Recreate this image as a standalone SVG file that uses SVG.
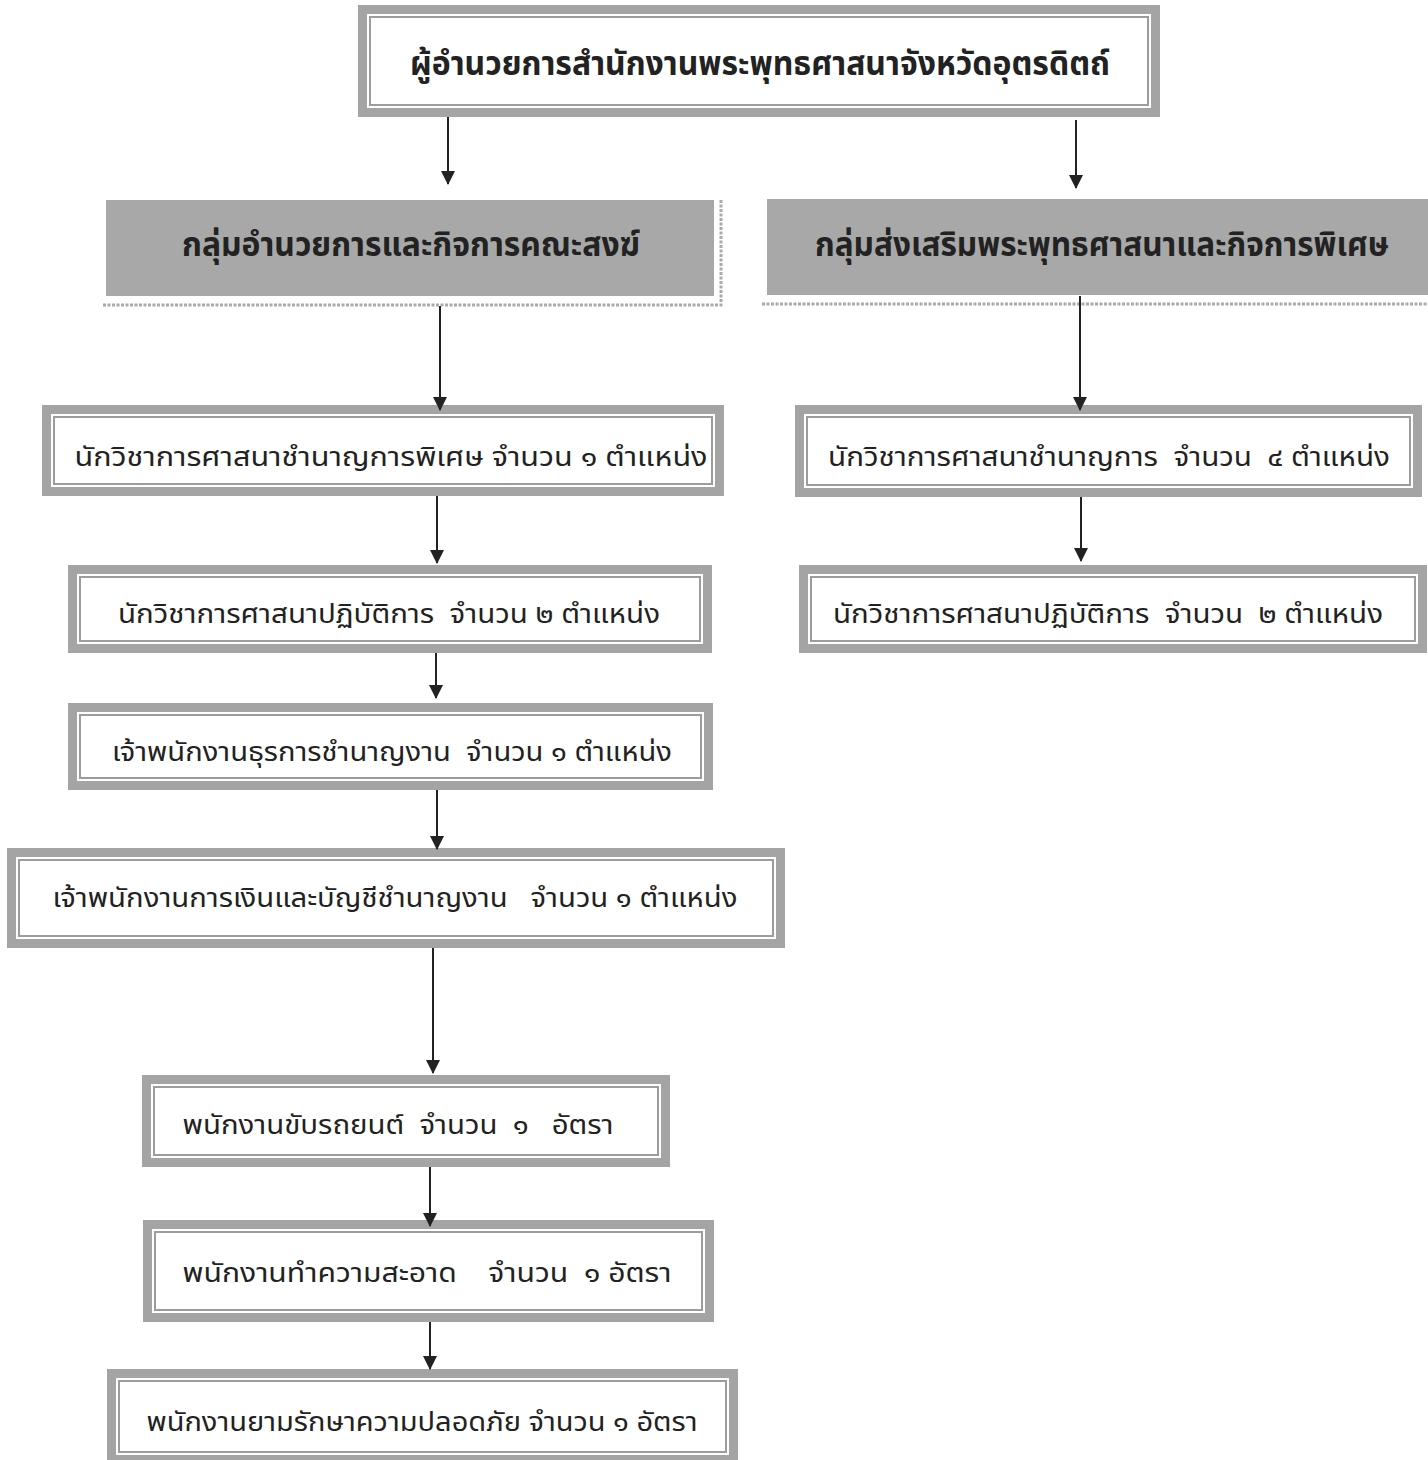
<svg xmlns="http://www.w3.org/2000/svg" width="1428" height="1460" viewBox="0 0 1428 1460">
<defs>
<marker id="ah" markerWidth="14" markerHeight="14" refX="13" refY="7" orient="auto" markerUnits="userSpaceOnUse" viewBox="0 0 14 14">
<path d="M0,0 L14,7 L0,14 Z" fill="#222"/>
</marker>
<style>
.outer{fill:#fff;stroke:#a4a4a4;stroke-width:9}
.inner{fill:none;stroke:#9c9c9c;stroke-width:2}
.hdr{fill:#a8a8a8}
.shadow{fill:none;stroke:#aaa;stroke-width:3;stroke-dasharray:3 1.5}
.t{font-family:"Noto Sans Thai","Noto Sans","DejaVu Sans",sans-serif;fill:#222;text-anchor:middle;white-space:pre}
.big{font-size:34px;font-weight:bold}
.sm{font-size:27px}
.conn{stroke:#222;stroke-width:2;fill:none;marker-end:url(#ah)}
</style>
</defs>
<rect width="1428" height="1460" fill="#fff"/>

<g id="director">
<rect class="outer" x="362.5" y="9.5" width="793" height="103"/>
<rect class="inner" x="370" y="17" width="778" height="88"/>
<text class="t big" x="760" y="75" textLength="700" lengthAdjust="spacingAndGlyphs">ผู้อำนวยการสำนักงานพระพุทธศาสนาจังหวัดอุตรดิตถ์</text>
</g>

<g id="group-admin">
<rect class="hdr" x="106" y="200" width="608" height="96"/>
<path class="shadow" d="M721,200 L721,305 L102,305"/>
<text class="t big" x="411" y="256" textLength="458" lengthAdjust="spacingAndGlyphs">กลุ่มอำนวยการและกิจการคณะสงฆ์</text>
</g>

<g id="group-promo">
<rect class="hdr" x="767" y="199" width="661" height="96"/>
<path class="shadow" d="M762,304 L1428,304"/>
<text class="t big" x="1102" y="256" textLength="574" lengthAdjust="spacingAndGlyphs">กลุ่มส่งเสริมพระพุทธศาสนาและกิจการพิเศษ</text>
</g>

<g id="L1">
<rect class="outer" x="46.5" y="409.5" width="673" height="82"/>
<rect class="inner" x="54" y="417" width="658" height="67"/>
<text class="t sm" x="391" y="466" textLength="633" lengthAdjust="spacingAndGlyphs">นักวิชาการศาสนาชำนาญการพิเศษ จำนวน ๑ ตำแหน่ง</text>
</g>

<g id="L2">
<rect class="outer" x="72.5" y="569.5" width="635" height="79"/>
<rect class="inner" x="80" y="577" width="620" height="64"/>
<text class="t sm" x="389" y="623" textLength="542" lengthAdjust="spacingAndGlyphs">นักวิชาการศาสนาปฏิบัติการ  จำนวน ๒ ตำแหน่ง</text>
</g>

<g id="L3">
<rect class="outer" x="72.5" y="707.5" width="636" height="78"/>
<rect class="inner" x="80" y="715" width="621" height="63"/>
<text class="t sm" x="392" y="761" textLength="560" lengthAdjust="spacingAndGlyphs">เจ้าพนักงานธุรการชำนาญงาน  จำนวน ๑ ตำแหน่ง</text>
</g>

<g id="L4">
<rect class="outer" x="11.5" y="852.5" width="769" height="91"/>
<rect class="inner" x="19" y="860" width="754" height="76"/>
<text class="t sm" x="395" y="907" textLength="685" lengthAdjust="spacingAndGlyphs">เจ้าพนักงานการเงินและบัญชีชำนาญงาน   จำนวน ๑ ตำแหน่ง</text>
</g>

<g id="L5">
<rect class="outer" x="146.5" y="1079.5" width="519" height="83"/>
<rect class="inner" x="154" y="1087" width="504" height="68"/>
<text class="t sm" x="398" y="1134" textLength="431" lengthAdjust="spacingAndGlyphs">พนักงานขับรถยนต์  จำนวน  ๑   อัตรา</text>
</g>

<g id="L6">
<rect class="outer" x="147.5" y="1224.5" width="562" height="93"/>
<rect class="inner" x="155" y="1232" width="547" height="78"/>
<text class="t sm" x="427" y="1282" textLength="489" lengthAdjust="spacingAndGlyphs">พนักงานทำความสะอาด    จำนวน  ๑ อัตรา</text>
</g>

<g id="L7">
<rect class="outer" x="111.5" y="1373.5" width="622" height="86"/>
<rect class="inner" x="119" y="1381" width="607" height="71"/>
<text class="t sm" x="422" y="1431" textLength="551" lengthAdjust="spacingAndGlyphs">พนักงานยามรักษาความปลอดภัย จำนวน ๑ อัตรา</text>
</g>

<g id="R1">
<rect class="outer" x="799.5" y="409.5" width="618" height="83"/>
<rect class="inner" x="807" y="417" width="603" height="68"/>
<text class="t sm" x="1109" y="466" textLength="562" lengthAdjust="spacingAndGlyphs">นักวิชาการศาสนาชำนาญการ  จำนวน  ๔ ตำแหน่ง</text>
</g>

<g id="R2">
<rect class="outer" x="803.5" y="569.5" width="619" height="79"/>
<rect class="inner" x="811" y="577" width="604" height="64"/>
<text class="t sm" x="1108" y="623" textLength="550" lengthAdjust="spacingAndGlyphs">นักวิชาการศาสนาปฏิบัติการ  จำนวน  ๒ ตำแหน่ง</text>
</g>

<g id="connectors">
<line class="conn" x1="448" y1="117" x2="448" y2="184"/>
<line class="conn" x1="1076" y1="120" x2="1076" y2="188"/>
<line class="conn" x1="440" y1="306" x2="440" y2="410"/>
<line class="conn" x1="1080" y1="296" x2="1080" y2="410"/>
<line class="conn" x1="437" y1="496" x2="437" y2="563"/>
<line class="conn" x1="1081" y1="497" x2="1081" y2="561"/>
<line class="conn" x1="436" y1="653" x2="436" y2="698"/>
<line class="conn" x1="437" y1="790" x2="437" y2="849"/>
<line class="conn" x1="433" y1="948" x2="433" y2="1073"/>
<line class="conn" x1="430" y1="1167" x2="430" y2="1226"/>
<line class="conn" x1="430" y1="1322" x2="430" y2="1369"/>
</g>
</svg>
